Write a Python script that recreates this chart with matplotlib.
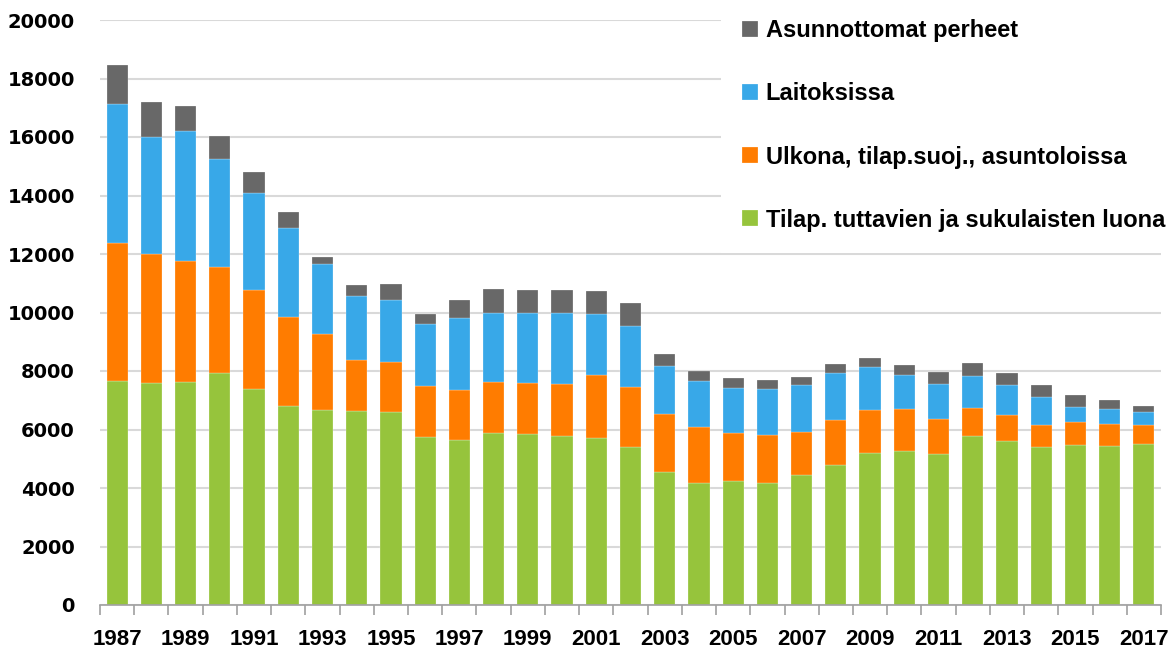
import matplotlib
matplotlib.use("Agg")
import matplotlib.pyplot as plt
import numpy as np

# =========================
# Datos
# =========================
years = list(range(1987, 2018))

tuttavat = [7650, 7580, 7610, 7930, 7390, 6810, 6680, 6620, 6590, 5755,
            5640, 5870, 5835, 5765, 5700, 5415, 4545, 4170, 4230, 4160,
            4445, 4785, 5185, 5255, 5160, 5780, 5620, 5390, 5480, 5435, 5505]
ulkona = [4715, 4420, 4160, 3615, 3370, 3040, 2580, 1755, 1725, 1745,
          1720, 1765, 1745, 1800, 2165, 2050, 1995, 1905, 1640, 1650,
          1480, 1525, 1470, 1435, 1210, 970, 865, 775, 765, 765, 660]
laitokset = [4750, 3990, 4420, 3700, 3340, 3030, 2400, 2180, 2100, 2095,
             2450, 2350, 2405, 2415, 2085, 2085, 1640, 1575, 1540, 1575,
             1585, 1630, 1470, 1175, 1185, 1095, 1025, 935, 515, 490, 435]
perheet = [1355, 1200, 870, 800, 690, 560, 250, 380, 560, 365,
           605, 820, 775, 785, 775, 775, 410, 355, 365, 295,
           295, 295, 330, 355, 420, 445, 410, 420, 435, 320, 205]

series = [
    ("Tilap. tuttavien ja sukulaisten luona", tuttavat, "#96C43C"),
    ("Ulkona, tilap.suoj., asuntoloissa", ulkona, "#FF7C00"),
    ("Laitoksissa", laitokset, "#38A8E8"),
    ("Asunnottomat perheet", perheet, "#686868"),
]

narrow = ["Liberation Sans Narrow", "Liberation Sans", "DejaVu Sans"]

# =========================
# Figura
# =========================
fig = plt.figure(figsize=(11.76, 6.52), dpi=100)
ax = fig.add_axes([100 / 1176, 1 - 605 / 652, 1061 / 1176, 585 / 652])

x = np.arange(len(years))
bottom = np.zeros(len(years))
handles = []
for label, vals, color in series:
    b = ax.bar(x, vals, width=0.62, bottom=bottom, color=color,
               edgecolor=(1, 1, 1, 0.6), linewidth=0.3, label=label)
    handles.append(b)
    bottom += np.array(vals)

ax.set_xlim(-0.5, len(years) - 0.5)
ax.set_ylim(0, 20000)
ax.set_yticks(range(0, 20001, 2000))
ax.yaxis.grid(True, color="#d9d9d9", linewidth=1.5)
ax.set_axisbelow(True)

for s in ["left", "right", "top"]:
    ax.spines[s].set_visible(False)
ax.spines["bottom"].set_color("#a0a0a0")
ax.spines["bottom"].set_linewidth(1.2)

ax.set_xticks(x[::2])
ax.set_xticklabels([str(y) for y in years[::2]])
ax.set_xticks(np.arange(-0.5, len(years), 1), minor=True)
ax.tick_params(axis="x", which="major", length=0, pad=17)
ax.tick_params(axis="x", which="minor", length=7, color="#a0a0a0", width=1.2)
ax.tick_params(axis="y", length=0, pad=18)

for t in ax.get_xticklabels():
    t.set_fontfamily(narrow)
    t.set_fontweight("bold")
    t.set_fontsize(16)
for t in ax.get_yticklabels():
    t.set_fontfamily("DejaVu Sans")
    t.set_fontweight("bold")
    t.set_fontsize(14)

leg = ax.legend(handles[::-1], [s[0] for s in series[::-1]],
                loc="upper left", bbox_to_anchor=(721 / 1176, 1 + 2 / 652),
                bbox_transform=fig.transFigure,
                prop={"family": narrow, "weight": "bold", "size": 17},
                frameon=True, facecolor="white", edgecolor="none",
                framealpha=1, fancybox=False, borderpad=0.9,
                handlelength=0.65, handleheight=0.65, handletextpad=0.35,
                labelspacing=1.7, borderaxespad=0)

fig.savefig("out.png", dpi=100)
